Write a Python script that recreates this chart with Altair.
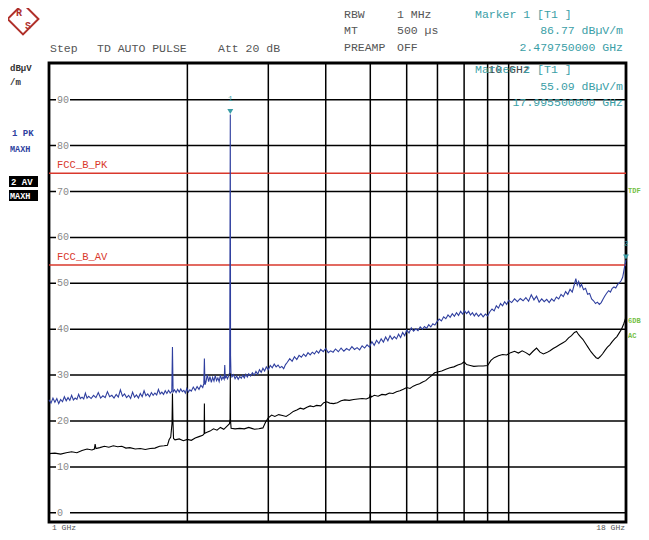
import altair as alt
import pandas as pd

# ---------------- data ----------------
pk_freq = [1.000, 1.010, 1.020, 1.030, 1.040, 1.050, 1.060, 1.070, 1.080, 1.090,
           1.100, 1.110, 1.120, 1.130, 1.140, 1.150, 1.160, 1.170, 1.180, 1.190,
           1.200, 1.210, 1.220, 1.235, 1.250, 1.265, 1.280, 1.295, 1.310, 1.325,
           1.340, 1.355, 1.370, 1.385, 1.400, 1.415, 1.430, 1.445, 1.460, 1.475,
           1.490, 1.505, 1.520, 1.535, 1.550, 1.565, 1.580, 1.595, 1.610, 1.625,
           1.640, 1.655, 1.670, 1.685, 1.700, 1.715, 1.730, 1.745, 1.760, 1.775,
           1.790, 1.805, 1.820, 1.835, 1.850, 1.856, 1.862, 1.875, 1.890, 1.905,
           1.920, 1.935, 1.950, 1.965, 1.980, 1.995, 2.010, 2.025, 2.040, 2.060,
           2.080, 2.100, 2.120, 2.140, 2.160, 2.172, 2.178, 2.184, 2.195, 2.210,
           2.225, 2.240, 2.255, 2.270, 2.285, 2.300, 2.315, 2.330, 2.345, 2.360,
           2.375, 2.390, 2.405, 2.412, 2.418, 2.430, 2.445, 2.460, 2.472, 2.476,
           2.4798, 2.483, 2.488, 2.500, 2.520, 2.540, 2.560, 2.580, 2.600, 2.620,
           2.640, 2.660, 2.680, 2.700, 2.720, 2.745, 2.770, 2.795, 2.820, 2.845,
           2.870, 2.895, 2.920, 2.945, 2.970, 3.000, 3.030, 3.060, 3.090, 3.120,
           3.150, 3.180, 3.210, 3.240, 3.270, 3.300, 3.340, 3.380, 3.420, 3.460,
           3.500, 3.540, 3.580, 3.620, 3.660, 3.700, 3.740, 3.780, 3.820, 3.860,
           3.900, 3.950, 4.000, 4.050, 4.100, 4.150, 4.200, 4.260, 4.320, 4.380,
           4.440, 4.500, 4.560, 4.620, 4.680, 4.740, 4.800, 4.860, 4.920, 4.980,
           5.040, 5.100, 5.160, 5.220, 5.280, 5.340, 5.400, 5.460, 5.520, 5.580,
           5.640, 5.700, 5.760, 5.820, 5.880, 5.940, 6.000, 6.070, 6.140, 6.210,
           6.280, 6.350, 6.420, 6.490, 6.560, 6.630, 6.700, 6.770, 6.840, 6.910,
           6.980, 7.060, 7.140, 7.220, 7.300, 7.380, 7.460, 7.540, 7.620, 7.700,
           7.780, 7.860, 7.940, 8.020, 8.100, 8.180, 8.260, 8.340, 8.420, 8.500,
           8.600, 8.700, 8.800, 8.900, 9.000, 9.100, 9.200, 9.300, 9.400, 9.500,
           9.600, 9.700, 9.800, 9.900, 10.00, 10.15, 10.30, 10.45, 10.60, 10.75,
           10.90, 11.05, 11.20, 11.35, 11.50, 11.65, 11.80, 11.95, 12.10, 12.25,
           12.40, 12.55, 12.70, 12.85, 13.00, 13.15, 13.30, 13.45, 13.60, 13.75,
           13.90, 14.00, 14.10, 14.20, 14.30, 14.40, 14.55, 14.70, 14.85, 15.00,
           15.15, 15.30, 15.45, 15.60, 15.75, 15.90, 16.05, 16.20, 16.35, 16.50,
           16.65, 16.80, 16.95, 17.10, 17.25, 17.40, 17.55, 17.70, 17.80, 17.90,
           17.9955]
pk_level = [24.6, 23.9, 25.0, 24.1, 24.9, 23.8, 24.7, 24.2, 25.3, 24.4,
            25.1, 24.5, 25.6, 24.6, 25.0, 24.7, 25.8, 24.9, 25.2, 24.8,
            26.1, 25.0, 25.4, 24.9, 25.6, 25.1, 26.2, 25.0, 25.5, 25.1,
            26.4, 25.3, 25.6, 25.0, 25.8, 25.2, 26.8, 25.4, 25.9, 25.1,
            25.6, 24.9, 26.3, 25.2, 25.7, 25.0, 26.0, 25.3, 26.6, 25.5,
            25.9, 25.3, 26.2, 25.6, 26.1, 25.7, 26.9, 25.9, 26.3, 25.8,
            26.6, 26.0, 26.7, 26.1, 26.5, 36.1, 26.3, 26.8, 26.2, 26.9,
            26.3, 27.0, 26.4, 26.7, 26.1, 27.1, 26.3, 26.8, 26.5, 27.4,
            26.7, 27.5, 26.9, 27.8, 27.3, 28.2, 33.6, 27.9, 28.5, 30.1,
            28.6, 29.7, 28.4, 29.5, 28.7, 29.9, 28.8, 29.4, 28.6, 30.0,
            29.0, 29.6, 29.1, 32.2, 29.3, 29.8, 29.2, 29.9, 30.5, 58.5,
            86.77, 34.2, 30.4, 29.6, 30.1, 29.2, 29.8, 29.1, 29.7, 29.3,
            30.0, 29.4, 30.2, 29.6, 30.3, 29.8, 30.5, 30.0, 30.8, 30.2,
            31.2, 30.6, 31.5, 30.9, 31.8, 31.2, 32.1, 31.6, 32.4, 31.8,
            32.2, 31.6, 31.9, 31.4, 32.3, 32.8, 33.6, 33.0, 34.0, 33.4,
            34.3, 33.9, 34.6, 34.1, 34.9, 34.4, 35.0, 34.6, 35.3, 34.8,
            35.6, 35.1, 35.8, 34.9, 35.3, 35.0, 35.7, 35.1, 35.9, 35.2,
            35.8, 35.4, 36.2, 35.6, 36.0, 35.5, 36.4, 35.9, 36.6, 36.1,
            37.3, 36.5, 37.6, 36.9, 37.9, 37.2, 38.3, 37.5, 38.6, 37.8,
            38.4, 37.9, 38.9, 38.2, 39.3, 38.6, 39.8, 39.2, 40.3, 39.6,
            40.1, 39.7, 40.5, 40.0, 40.6, 40.2, 41.0, 40.5, 41.2, 40.9,
            41.6, 42.2, 41.8, 42.7, 42.3, 43.1, 42.6, 43.4, 42.8, 43.6,
            43.0, 43.9, 43.3, 44.0, 43.4, 43.9, 43.1, 43.6, 42.9, 43.5,
            42.8, 43.4, 42.7, 43.3, 42.9, 43.8, 44.4, 44.0, 45.1, 44.6,
            45.6, 45.1, 46.0, 45.4, 46.3, 45.8, 46.6, 46.0, 46.7, 46.2,
            46.9, 46.1, 47.5, 46.4, 47.2, 45.9, 46.6, 46.0, 46.5, 45.8,
            46.6, 46.1, 47.0, 46.6, 47.6, 47.1, 48.2, 47.6, 48.7, 48.1,
            49.8, 51.0, 49.6, 50.4, 49.2, 49.8, 48.6, 48.9, 47.6, 47.8,
            46.6, 46.2, 45.6, 45.9, 45.4, 45.8, 46.6, 47.3, 47.9, 48.4,
            48.1, 48.9, 49.2, 49.0, 49.7, 50.1, 50.5, 51.3, 52.6, 54.0,
            55.09]

av_freq = [1.000, 1.030, 1.060, 1.090, 1.120, 1.150, 1.180, 1.210, 1.240, 1.255,
           1.260, 1.265, 1.290, 1.320, 1.350, 1.380, 1.410, 1.440, 1.470, 1.500,
           1.540, 1.580, 1.620, 1.660, 1.700, 1.740, 1.780, 1.810, 1.825, 1.840,
           1.852, 1.856, 1.860, 1.866, 1.880, 1.920, 1.960, 2.000, 2.040, 2.080,
           2.120, 2.160, 2.175, 2.178, 2.181, 2.200, 2.240, 2.280, 2.320, 2.360,
           2.400, 2.440, 2.470, 2.476, 2.4798, 2.483, 2.490, 2.540, 2.600, 2.660,
           2.720, 2.760, 2.800, 2.860, 2.920, 2.960, 3.000, 3.050, 3.100, 3.160,
           3.220, 3.280, 3.340, 3.400, 3.460, 3.520, 3.580, 3.640, 3.700, 3.760,
           3.820, 3.900, 3.960, 4.020, 4.080, 4.160, 4.240, 4.320, 4.400, 4.500,
           4.600, 4.700, 4.800, 4.900, 4.980, 5.000, 5.020, 5.100, 5.200, 5.300,
           5.400, 5.500, 5.600, 5.700, 5.800, 5.900, 6.000, 6.100, 6.200, 6.300,
           6.400, 6.500, 6.600, 6.700, 6.800, 6.900, 7.000, 7.150, 7.300, 7.450,
           7.600, 7.750, 7.900, 8.000, 8.100, 8.250, 8.400, 8.600, 8.800, 9.000,
           9.150, 9.300, 9.500, 9.700, 9.900, 10.10, 10.30, 10.50, 10.70, 10.90,
           11.10, 11.30, 11.50, 11.70, 11.90, 12.10, 12.30, 12.50, 12.70, 12.90,
           13.10, 13.30, 13.50, 13.70, 13.90, 14.05, 14.20, 14.35, 14.50, 14.70,
           14.90, 15.10, 15.30, 15.50, 15.65, 15.80, 16.00, 16.20, 16.40, 16.60,
           16.80, 17.00, 17.20, 17.40, 17.60, 17.80, 17.95, 17.98]
av_level = [12.9, 13.0, 12.8, 13.1, 13.3, 13.1, 13.6, 13.9, 13.7, 13.9,
            15.0, 14.0, 14.2, 14.5, 14.3, 14.6, 14.4, 14.5, 14.1, 14.2,
            13.9, 14.0, 13.8, 14.0, 14.1, 14.5, 14.6, 14.7, 15.9, 16.5,
            19.5, 26.0, 20.5, 16.2, 15.9, 16.1, 15.7, 16.0, 15.8, 16.3,
            16.6, 16.9, 17.2, 23.8, 17.3, 17.5, 17.8, 18.3, 18.0, 18.6,
            18.2, 18.9, 19.4, 20.5, 30.4, 20.0, 18.4, 18.3, 18.4, 18.3,
            18.6, 18.4, 18.2, 18.3, 18.5, 19.8, 20.7, 21.3, 21.0, 21.4,
            21.2, 21.0, 21.5, 22.1, 22.4, 22.8, 22.6, 23.0, 23.3, 23.1,
            23.4, 23.3, 24.0, 24.2, 23.9, 23.8, 24.0, 24.4, 24.6, 24.5,
            24.7, 24.8, 24.9, 24.8, 25.1, 25.9, 25.2, 25.6, 25.4, 25.8,
            25.7, 26.1, 26.0, 26.4, 26.6, 26.9, 27.3, 27.1, 27.6, 27.9,
            28.1, 28.5, 28.8, 29.4, 29.9, 30.5, 30.7, 30.9, 31.3, 31.6,
            31.8, 32.2, 32.5, 32.9, 32.3, 32.1, 31.9, 32.0, 32.0, 32.1,
            33.2, 33.8, 34.2, 34.5, 34.4, 34.9, 35.2, 34.8, 35.3, 34.9,
            34.4, 35.2, 35.9, 35.0, 34.6, 34.9, 35.3, 35.8, 36.2, 36.6,
            37.0, 37.4, 38.1, 38.6, 39.3, 39.5, 38.8, 38.3, 37.8, 36.9,
            36.0, 35.1, 34.4, 33.8, 33.6, 34.0, 34.6, 35.4, 36.1, 36.6,
            37.3, 37.9, 38.4, 39.2, 40.0, 41.2, 42.3, 43.2]

grid_levels = [0, 10, 20, 30, 40, 50, 60, 70, 80, 90]
grid_freqs = [2, 3, 4, 5, 6, 7, 8, 9, 10]
limit_names = ["FCC_B_PK", "FCC_B_AV"]
limit_levels = [74, 54]
marker_ids = ["1", "2"]
marker_freqs = [2.47975, 17.9955]
marker_levels = [86.77, 55.09]

# ---------------- styling ----------------
W, H = 577, 459
MONO = "Liberation Mono"
BLUE = "#2f3f9f"
RED = "#d9382c"
TEAL = "#3a9ea6"
GREEN = "#74c043"
GRAY = "#555555"
HS = 11.5  # header font size

xs = alt.Scale(type="log", domain=[1, 18], nice=False)
ys = alt.Scale(domain=[-2, 98], nice=False, zero=False)

df_pk = pd.DataFrame({"f": pk_freq, "v": pk_level})
df_av = pd.DataFrame({"f": av_freq, "v": av_level})
df_hg = pd.DataFrame({"v": grid_levels})
df_vg = pd.DataFrame({"f": grid_freqs})
df_lim = pd.DataFrame({"name": limit_names, "v": limit_levels})
df_mk = pd.DataFrame({"id": marker_ids, "f": marker_freqs, "v": marker_levels})

Xf = alt.X("f:Q", scale=xs, axis=None)
Yv = alt.Y("v:Q", scale=ys, axis=None)

hgrid = alt.Chart(df_hg).mark_rule(color="black", strokeWidth=1.5).encode(y=Yv)
vgrid = alt.Chart(df_vg).mark_rule(color="black", strokeWidth=1.5).encode(x=Xf)
lab_bg = alt.Chart(df_hg).mark_point(
    shape="M-1.75,-1L1.75,-1L1.75,1L-1.75,1Z", size=64, filled=True,
    color="white", opacity=1).encode(x=alt.value(14), y=Yv)
ylab = alt.Chart(df_hg).mark_text(align="left", baseline="middle", color="#888888",
                                  fontSize=10, font=MONO).encode(
    x=alt.value(8), y=Yv, text="v:Q")
limits = alt.Chart(df_lim).mark_rule(color=RED, strokeWidth=1.5).encode(y=Yv)
limit_txt = alt.Chart(df_lim).mark_text(align="left", baseline="middle", color=RED,
                                        fontSize=10.5, font=MONO, dy=-8).encode(
    x=alt.value(8), y=Yv, text="name:N")
pk_line = alt.Chart(df_pk).mark_line(color=BLUE, strokeWidth=1.1).encode(x=Xf, y=Yv)
av_line = alt.Chart(df_av).mark_line(color="black", strokeWidth=1.1).encode(x=Xf, y=Yv)
mk_pts = alt.Chart(df_mk).mark_point(shape="triangle-down", filled=True, color=TEAL,
                                     size=35, opacity=1, yOffset=-3).encode(x=Xf, y=Yv)
mk_txt = alt.Chart(df_mk).mark_text(color=TEAL, fontSize=8, font=MONO, dy=-16).encode(
    x=Xf, y=Yv, text="id:N")


def label(text, x, y, color=GRAY, size=HS, align="left", weight="normal"):
    return alt.Chart(pd.DataFrame({"t": [text]})).mark_text(
        align=align, baseline="middle", color=color, fontSize=size,
        font=MONO, fontWeight=weight).encode(
        x=alt.value(x), y=alt.value(y), text="t:N")


def box(x1, x2, y1, y2, color="black"):
    return alt.Chart(pd.DataFrame({"t": [0]})).mark_rect(color=color).encode(
        x=alt.value(x1), x2=alt.value(x2), y=alt.value(y1), y2=alt.value(y2))


annots = [
    label("Step", 1, -14),
    label("TD AUTO PULSE", 48, -14),
    label("Att 20 dB", 169, -14),
    label("RBW", 295, -48),
    label("1 MHz", 348, -48),
    label("MT", 295, -32),
    label("500 µs", 348, -32),
    label("PREAMP", 295, -15),
    label("OFF", 348, -15),
    label("Marker 1 [T1 ]", 426, -48, TEAL),
    label("86.77 dBµV/m", 574, -32, TEAL, align="right"),
    label("2.479750000 GHz", 574, -15, TEAL, align="right"),
    label("10 GHz", 460, 7, "#444444", align="center"),
    label("Marker 2 [T1 ]", 426, 7, TEAL),
    label("55.09 dBµV/m", 574, 24, TEAL, align="right"),
    label("17.995500000 GHz", 574, 40, TEAL, align="right"),
    label("dBµV", -39, 5, "#333333", 9, weight="bold"),
    label("/m", -39, 19, "#333333", 9, weight="bold"),
    label("1 PK", -37, 70, BLUE, 9, weight="bold"),
    label("MAXH", -39, 86, BLUE, 8.5, weight="bold"),
    box(-40, -11, 113, 124),
    box(-40, -11, 127, 138),
    label("2 AV", -38, 118.5, "white", 9, weight="bold"),
    label("MAXH", -39, 132.5, "white", 8.5, weight="bold"),
    label("TDF", 579, 128, GREEN, 7, weight="bold"),
    label("6DB", 579, 258, GREEN, 7, weight="bold"),
    label("AC", 579, 273, GREEN, 7, weight="bold"),
    label("1 GHz", 3, 464.5, GRAY, 8),
    label("18 GHz", 576, 464.5, GRAY, 8, align="right"),
]

# R&S logo (decoration)
logo = [
    alt.Chart(pd.DataFrame({"t": [0]})).mark_point(
        shape="diamond", size=950, filled=False, color="#b0302a", strokeWidth=2,
        opacity=1).encode(x=alt.value(-26), y=alt.value(-44)),
    label("R", -33, -50, "#b0302a", 10, weight="bold"),
    label("S", -24, -37, "#b0302a", 10, weight="bold"),
]

chart = alt.layer(
    hgrid, vgrid, lab_bg, ylab, limits, limit_txt, pk_line, av_line,
    mk_pts, mk_txt, *annots, *logo
).properties(
    width=W, height=H,
    autosize=alt.AutoSizeParams(type="none"),
    padding={"left": 41, "top": 55, "right": 15, "bottom": 10},
).configure_view(stroke="black", strokeWidth=2.8)

chart.save("out.html", embed_options={"renderer": "svg", "actions": False})
